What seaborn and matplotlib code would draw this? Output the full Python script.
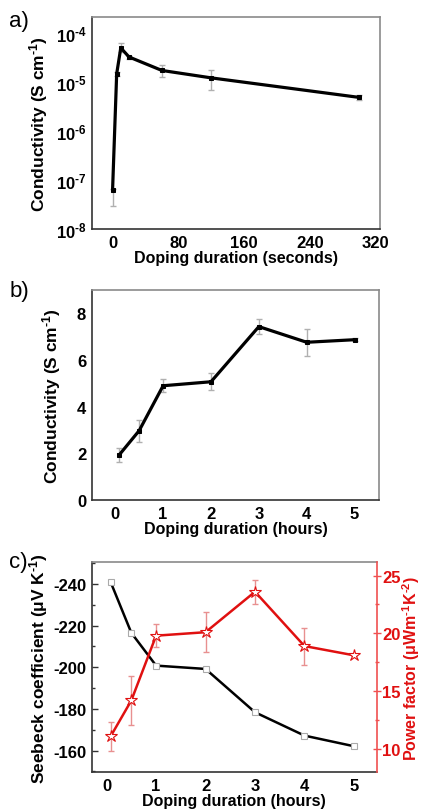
import numpy as np
import pandas as pd
import matplotlib
matplotlib.use("Agg")
import matplotlib.pyplot as plt
import seaborn as sns
from matplotlib.ticker import LogLocator, MultipleLocator, FixedLocator, FuncFormatter

sns.set_theme(style="white")
plt.rcParams['font.family'] = ['Liberation Sans', 'DejaVu Sans']
plt.rcParams['axes.unicode_minus'] = False
plt.rcParams['axes.labelcolor'] = 'black'
plt.rcParams['text.color'] = 'black'
plt.rcParams['mathtext.fontset'] = 'custom'
plt.rcParams['mathtext.rm'] = 'Liberation Sans:bold'
plt.rcParams['mathtext.it'] = 'Liberation Sans:bold'
plt.rcParams['mathtext.bf'] = 'Liberation Sans:bold'

# ---- Panel a data (seconds) ----
a_time = [0, 5, 10, 20, 60, 120, 300]
a_cond = [6.2e-8, 1.45e-5, 4.9e-5, 3.2e-5, 1.7e-5, 1.2e-5, 4.8e-6]
a_err_lo = [3.0e-8, 1.3e-5, 4.1e-5, 2.9e-5, 1.25e-5, 6.8e-6, 4.3e-6]
a_err_hi = [6.5e-8, 1.6e-5, 6.2e-5, 3.4e-5, 2.2e-5, 1.75e-5, 5.3e-6]

# ---- Panel b data (hours) ----
b_time = [0.083, 0.5, 1, 2, 3, 4, 5]
b_cond = [1.93, 2.97, 4.89, 5.06, 7.42, 6.75, 6.86]
b_err = [0.30, 0.47, 0.28, 0.37, 0.33, 0.58, 0.06]

# ---- Panel c data (hours) ----
c_time = [0.083, 0.5, 1, 2, 3, 4, 5]
seebeck = [-240.8, -216.5, -200.8, -199.2, -178.4, -167.2, -162.1]
power = [11.1, 14.2, 19.8, 20.1, 23.6, 18.9, 18.1]
power_err = [1.25, 2.1, 1.0, 1.75, 1.05, 1.6, 0.1]

fig = plt.figure(figsize=(4.23, 8.12), dpi=100)
ax_a = fig.add_axes([0.2175, 0.7167, 0.898 - 0.2175, 0.978 - 0.7167])
ax_b = fig.add_axes([0.217, 0.383, 0.896 - 0.217, 0.642 - 0.383])
ax_c = fig.add_axes([0.217, 0.0477, 0.8905 - 0.217, 0.3063 - 0.0477])

tick_fs = 12
xlab_fs = 11.5
ylab_fs = 12.5
err_col = '#b0b0b0'
SUP = r'$^{\text{-}%s}$'

def style_axes(ax):
    for s in ['left', 'bottom']:
        ax.spines[s].set_color('#333333')
        ax.spines[s].set_linewidth(1.2)
    for s in ['top', 'right']:
        ax.spines[s].set_color('#8a8a8a')
        ax.spines[s].set_linewidth(1.2)
    ax.tick_params(axis='both', which='both', direction='in', top=False, right=False,
                   colors='#333333', labelcolor='black')
    ax.tick_params(which='major', length=4, width=1, labelsize=tick_fs, pad=4)
    ax.tick_params(which='minor', length=2, width=1)
    for t in ax.get_xticklabels() + ax.get_yticklabels():
        t.set_fontweight('bold')

# ---- Panel a ----
df_a = pd.DataFrame({'t': a_time, 'c': a_cond})
ax_a.errorbar(a_time, a_cond,
              yerr=[np.array(a_cond) - np.array(a_err_lo), np.array(a_err_hi) - np.array(a_cond)],
              fmt='none', ecolor=err_col, elinewidth=1, capsize=2.5, zorder=1)
sns.lineplot(data=df_a, x='t', y='c', ax=ax_a, color='black', linewidth=2.3,
             marker='s', markersize=2.5, markeredgecolor='black', zorder=3)
ax_a.set_yscale('log')
ax_a.set_ylim(1e-8, 2.1e-4)
ax_a.set_xlim(-25, 325)
ax_a.xaxis.set_major_locator(FixedLocator([0, 80, 160, 240, 320]))
ax_a.xaxis.set_minor_locator(FixedLocator([40, 120, 200, 280]))
ax_a.yaxis.set_major_locator(FixedLocator([1e-8, 1e-7, 1e-6, 1e-5, 1e-4]))
ax_a.yaxis.set_minor_locator(LogLocator(base=10, subs=np.arange(2, 10), numticks=20))
ax_a.yaxis.set_major_formatter(FuncFormatter(
    lambda v, p: '10' + SUP % abs(int(round(np.log10(v))))))
ax_a.set_xlabel('Doping duration (seconds)', fontsize=xlab_fs, fontweight='bold', labelpad=0)
ax_a.set_ylabel('Conductivity (S cm' + SUP % '1' + ')', fontsize=ylab_fs, fontweight='bold', labelpad=4)
style_axes(ax_a)

# ---- Panel b ----
df_b = pd.DataFrame({'t': b_time, 'c': b_cond})
ax_b.errorbar(b_time, b_cond, yerr=b_err, fmt='none', ecolor=err_col, elinewidth=1,
              capsize=2.5, zorder=1)
sns.lineplot(data=df_b, x='t', y='c', ax=ax_b, color='black', linewidth=2.3,
             marker='s', markersize=2.5, markeredgecolor='black', zorder=3)
ax_b.set_xlim(-0.49, 5.51)
ax_b.set_ylim(0, 9)
ax_b.xaxis.set_major_locator(MultipleLocator(1))
ax_b.xaxis.set_minor_locator(MultipleLocator(0.5))
ax_b.yaxis.set_major_locator(MultipleLocator(2))
ax_b.yaxis.set_minor_locator(MultipleLocator(1))
ax_b.set_xlabel('Doping duration (hours)', fontsize=xlab_fs, fontweight='bold', labelpad=0)
ax_b.set_ylabel('Conductivity (S cm' + SUP % '1' + ')', fontsize=ylab_fs, fontweight='bold', labelpad=10)
style_axes(ax_b)

# ---- Panel c ----
df_s = pd.DataFrame({'t': c_time, 's': seebeck})
sns.lineplot(data=df_s, x='t', y='s', ax=ax_c, color='black', linewidth=1.8,
             marker='s', markersize=4, markerfacecolor='white', markeredgecolor='#aaaaaa',
             markeredgewidth=0.8, zorder=3)
ax_c.set_xlim(-0.3, 5.46)
ax_c.set_ylim(-149.6, -250.4)
ax_c.xaxis.set_major_locator(MultipleLocator(1))
ax_c.xaxis.set_minor_locator(MultipleLocator(0.5))
ax_c.yaxis.set_major_locator(MultipleLocator(20))
ax_c.yaxis.set_minor_locator(MultipleLocator(10))
ax_c.set_xlabel('Doping duration (hours)', fontsize=xlab_fs, fontweight='bold', labelpad=0)
ax_c.set_ylabel(r'Seebeck coefficient ($\mathbf{\mu}$V K' + SUP % '1' + ')', fontsize=ylab_fs,
                fontweight='bold', labelpad=2)
style_axes(ax_c)
ax_c.spines['right'].set_visible(False)

ax_r = ax_c.twinx()
ax_r.errorbar(c_time, power, yerr=power_err, fmt='none', ecolor='#e89090', elinewidth=1,
              capsize=2.5, zorder=1)
df_p = pd.DataFrame({'t': c_time, 'p': power})
sns.lineplot(data=df_p, x='t', y='p', ax=ax_r, color='#e01010', linewidth=1.8,
             marker='*', markersize=9, markerfacecolor='white', markeredgecolor='#e01010',
             markeredgewidth=0.8, zorder=3)
ax_r.set_ylim(7.98, 26.15)
ax_r.yaxis.set_major_locator(MultipleLocator(5))
ax_r.yaxis.set_minor_locator(MultipleLocator(2.5))
ax_r.set_ylabel(r'Power factor ($\mathbf{\mu}$Wm' + SUP % '1' + 'K' + SUP % '2' + ')', fontsize=11.5,
                fontweight='bold', color='#e01010', labelpad=0)
for s in ['left', 'top', 'bottom']:
    ax_r.spines[s].set_visible(False)
ax_r.spines['right'].set_color('#f05050')
ax_r.spines['right'].set_linewidth(1.2)
ax_r.tick_params(axis='y', which='both', direction='inout', colors='#f05050', labelcolor='#e01010')
ax_r.tick_params(axis='y', which='major', length=6, width=1, labelsize=tick_fs, pad=1)
ax_r.tick_params(axis='y', which='minor', length=3, width=1)
for t in ax_r.get_yticklabels():
    t.set_fontweight('bold')
ax_r.set_xlabel('')

# Panel labels
fig.text(0.022, 0.974, 'a)', fontsize=16, va='center', ha='left')
fig.text(0.022, 0.641, 'b)', fontsize=16, va='center', ha='left')
fig.text(0.022, 0.307, 'c)', fontsize=16, va='center', ha='left')

fig.savefig('out.png', dpi=100)
